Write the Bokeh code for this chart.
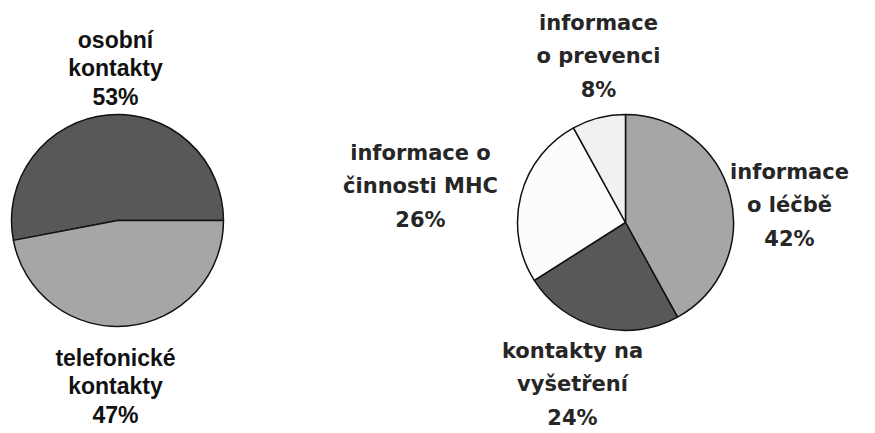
import math
from bokeh.plotting import figure
from bokeh.models import Range1d, ColumnDataSource
from bokeh.core.properties import value
from bokeh.embed import file_html
from bokeh.resources import INLINE

# ---- data ----
left_names = ["osobní\nkontakty", "telefonické\nkontakty"]
left_values = [53, 47]
left_colors = ["#585858", "#a6a6a6"]

right_names = ["informace\no léčbě", "kontakty na\nvyšetření",
               "informace o\nčinnosti MHC", "informace\no prevenci"]
right_values = [42, 24, 26, 8]
right_colors = ["#a6a6a6", "#585858", "#fcfcfc", "#f1f1f1"]

# ---- layout (page pixel coordinates) ----
W, H = 875, 433
left_center = (117, 220)
left_radius = 106
left_label_pos = [(115, 68), (115, 386)]
right_center = (625, 222)
right_radius = 108
right_label_pos = [(789, 205), (572, 384), (420, 186), (598, 56)]


def px(x):
    return x


def py(y):
    return H - y


p = figure(width=W, height=H, output_backend="svg", toolbar_location=None,
           x_range=Range1d(0, W), y_range=Range1d(0, H), min_border=0)
p.axis.visible = False
p.grid.visible = False
p.outline_line_color = None
p.background_fill_color = "white"
p.border_fill_color = "white"


def pie(values, colors, center, radius, start_deg, direction):
    total = float(sum(values))
    starts, ends = [], []
    acc = 0.0
    for v in values:
        a0 = acc / total * 2 * math.pi
        acc += v
        a1 = acc / total * 2 * math.pi
        if direction == "clock":
            starts.append(math.radians(start_deg) - a0)
            ends.append(math.radians(start_deg) - a1)
        else:
            starts.append(math.radians(start_deg) + a0)
            ends.append(math.radians(start_deg) + a1)
    src = ColumnDataSource(dict(
        x=[px(center[0])] * len(values), y=[py(center[1])] * len(values),
        start=starts, end=ends, color=colors))
    p.wedge(x="x", y="y", radius=radius, start_angle="start", end_angle="end",
            direction=direction, fill_color="color", line_color="#111111",
            line_width=1.5, source=src)


pie(left_values, left_colors, left_center, left_radius, 0, "anticlock")
pie(right_values, right_colors, right_center, right_radius, 90, "clock")


def labels(names, values, pos, font, size, lh, color):
    src = ColumnDataSource(dict(
        x=[px(a) for a, b in pos], y=[py(b) for a, b in pos],
        t=[f"{n}\n{v}%" for n, v in zip(names, values)]))
    p.text(x="x", y="y", text="t", source=src, text_font=value(font),
           text_font_size=size, text_font_style="bold", text_align="center",
           text_baseline="middle", text_line_height=lh, text_color=color)


labels(left_names, left_values, left_label_pos, "Liberation Sans", "23px", 1.1, "#111111")
labels(right_names, right_values, right_label_pos, "DejaVu Sans", "21px", 1.38, "#262626")

open("out.html", "w").write(file_html(p, INLINE))
